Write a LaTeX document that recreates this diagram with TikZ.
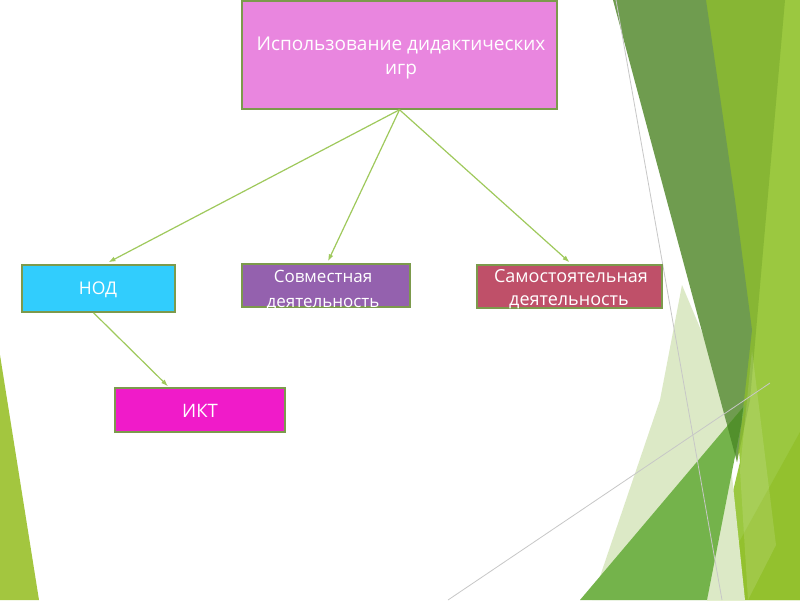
\documentclass[tikz,border=0pt]{standalone}
\usepackage{fontspec}
\setmainfont{Open Sans}
\usetikzlibrary{arrows.meta,calc}
\definecolor{bgLight}{HTML}{9BC840}
\definecolor{bgYellow}{HTML}{93C12E}
\definecolor{bgMed}{HTML}{87B634}
\definecolor{bgDark}{HTML}{6F9C4F}
\definecolor{bgDeep}{HTML}{52902C}
\definecolor{bgPale}{HTML}{DCE9C6}
\definecolor{bgGreen}{HTML}{74B34B}
\definecolor{bgLeft}{HTML}{A3C63F}
\definecolor{cTop}{HTML}{E986DF}
\definecolor{cNod}{HTML}{31CDFD}
\definecolor{cSov}{HTML}{9461AE}
\definecolor{cSam}{HTML}{BF5069}
\definecolor{cIkt}{HTML}{F01BC9}
\definecolor{cBorder}{HTML}{7C9A4C}
\definecolor{cArrow}{HTML}{9FC95C}
\tikzset{
  box/.style={draw=cBorder, line width=1.5pt, rectangle, inner sep=0pt},
  txt/.style={text=white, anchor=base, inner sep=0pt},
  conn/.style={draw=cArrow, line width=1.2pt, -{Latex[length=7pt,width=5pt]}},
  thin/.style={draw=black!22, line width=0.8pt}
}
\begin{document}
\begin{tikzpicture}[x=1pt,y=-1pt]
\useasboundingbox (0,0) rectangle (800,600);
\fill[white] (0,0) rectangle (800,600);
% background decoration
\fill[bgLight] (700,0) -- (800,0) -- (800,600) -- (707,600) -- (740,462) -- cycle;
\fill[bgYellow] (707,600) -- (800,432) -- (800,600) -- cycle;
\fill[bgMed] (700,0) -- (785,0) -- (750,400) -- (737,462) -- cycle;
\fill[white, opacity=0.12] (752,350) -- (776,545) -- (748,600) -- (740,470) -- cycle;
\fill[bgPale] (682,285) -- (660,400) -- (592,600) -- (745,600) -- (722,380) -- cycle;
\fill[bgDark] (613,0) -- (706,0) -- (735,200) -- (752,330) -- (737,462) -- cycle;
\fill[bgGreen] (580,600) -- (745,405) -- (707,600) -- cycle;
\begin{scope}
  \clip (613,0) -- (706,0) -- (735,200) -- (752,330) -- (737,462) -- cycle;
  \fill[bgDeep] (580,600) -- (745,405) -- (707,600) -- cycle;
\end{scope}
\fill[bgLeft] (0,355) -- (39,600) -- (0,600) -- cycle;
\draw[thin] (616,0) -- (722,600);
\draw[thin] (448,600) -- (770,383);
% boxes
\node[box, fill=cTop, minimum width=315pt, minimum height=108pt] (top) at (399.5,55) {};
\node[box, fill=cNod, minimum width=153pt, minimum height=47pt] (nod) at (98.5,288.5) {};
\node[box, fill=cSov, minimum width=168pt, minimum height=43pt] (sov) at (326,285.5) {};
\node[box, fill=cSam, minimum width=185pt, minimum height=43pt] (sam) at (569.5,286.5) {};
\node[box, fill=cIkt, minimum width=170pt, minimum height=44pt] (ikt) at (200,410) {};
% texts
\node[txt, font=\fontsize{19}{23}\selectfont] (t1) at (401,50) {Использование дидактических};
\node[txt, font=\fontsize{19}{23}\selectfont] (t2) at (401,74) {игр};
\node[txt, font=\fontsize{17.5}{21}\selectfont] (tn) at (98,294) {НОД};
\node[txt, font=\fontsize{17}{21}\selectfont] (ts1) at (323,282) {Совместная};
\node[txt, font=\fontsize{17}{21}\selectfont] (ts2) at (323,307) {деятельность};
\node[txt, font=\fontsize{18}{21}\selectfont] (tm1) at (571,282) {Самостоятельная};
\node[txt, font=\fontsize{18}{21}\selectfont] (tm2) at (569,305) {деятельность};
\node[txt, font=\fontsize{18.5}{22}\selectfont] (ti) at (200,417) {ИКТ};
% connectors
\draw[conn] (top.south) -- ([xshift=10pt,yshift=2pt]nod.north);
\draw[conn] (top.south) -- ([xshift=2pt,yshift=2pt]sov.north);
\draw[conn] (top.south) -- ([yshift=2pt]sam.north);
\draw[conn] ([xshift=-5pt]nod.south) -- ([xshift=-32pt,yshift=1pt]ikt.north);
\end{tikzpicture}
\end{document}
